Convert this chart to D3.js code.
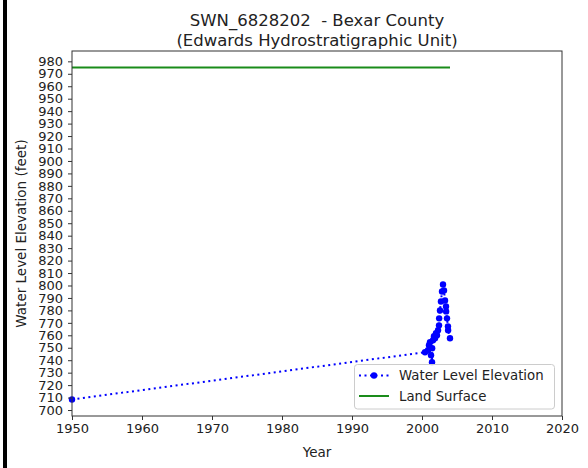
<!DOCTYPE html>
<html>
<head>
<meta charset="utf-8">
<script src="https://d3js.org/d3.v7.min.js"></script>
<title>SWN_6828202 - Bexar County</title>
</head>
<style>
body { margin: 0; background: #fff; }
svg { display: block; font-family: "DejaVu Sans", sans-serif; }
.title { white-space: pre; }
</style>
<body>
<svg width="588" height="468"></svg>
</body>
<script>

// water level readings (decimal year, feet)
let wlYears = [1950.0, 2000.43, 2000.86, 2001.0, 2001.14, 2001.29, 2001.43, 2001.45, 2001.57, 2001.71,
  2001.86, 2002.0, 2002.14, 2002.29, 2002.43, 2002.45, 2002.57, 2002.71, 2002.86, 2003.0,
  2003.14, 2003.29, 2003.43, 2003.45, 2003.57, 2003.71, 2003.73, 2004.0];
let wlValues = [708.5, 746.4, 748, 752, 754.4, 744, 738.4, 749.6, 756, 759.2,
  757.6, 761.6, 760, 764, 768, 773.6, 780, 787.2, 795.2, 800.8,
  796, 788, 783.2, 779.2, 773.6, 767.2, 764, 757.6];

let landYears = [1950, 2004];
let landValues = [975, 975];

let xTicks = [1950, 1960, 1970, 1980, 1990, 2000, 2010, 2020];
let yTicks = d3.range(700, 981, 10);

let titleLines = ["SWN_6828202  - Bexar County", "(Edwards Hydrostratigraphic Unit)"];

let svg = d3.select("svg");
let mLeft = 72, mRight = 562, mTop = 51, mBottom = 416;

let x = d3.scaleLinear().domain([1950, 2020]).range([mLeft, mRight]);
let y = d3.scaleLinear().domain([695.2, 988.3]).range([mBottom, mTop]);

// black bar at the left edge
svg.append("rect").attr("x", 3).attr("y", 0).attr("width", 4).attr("height", 468).attr("fill", "black");

// land surface
svg.append("path")
  .datum(d3.zip(landYears, landValues))
  .attr("fill", "none")
  .attr("stroke", "#1a8c1a")
  .attr("stroke-width", 2)
  .attr("d", d3.line().x(d => x(d[0])).y(d => y(d[1])));

// water level
let wl = d3.zip(wlYears, wlValues);
svg.append("path")
  .datum(wl)
  .attr("fill", "none")
  .attr("stroke", "blue")
  .attr("stroke-width", 2)
  .attr("stroke-dasharray", "2,3.5")
  .attr("d", d3.line().x(d => x(d[0])).y(d => y(d[1])));

svg.selectAll("circle.pt")
  .data(wl)
  .enter().append("circle")
  .attr("class", "pt")
  .attr("cx", d => x(d[0]))
  .attr("cy", d => y(d[1]))
  .attr("r", 3.2)
  .attr("fill", "blue");

// axes
let xAxis = svg.append("g")
  .attr("transform", "translate(0," + mBottom + ")")
  .call(d3.axisBottom(x).tickValues(xTicks).tickFormat(d3.format("d")).tickSize(4).tickPadding(4));
let yAxis = svg.append("g")
  .attr("transform", "translate(" + mLeft + ",0)")
  .call(d3.axisLeft(y).tickValues(yTicks).tickSize(4).tickPadding(5));

[xAxis, yAxis].forEach(function(g) {
  g.select(".domain").remove();
  g.selectAll("text").attr("font-size", 13).attr("font-family", "DejaVu Sans").attr("fill", "#222");
  g.selectAll("line").attr("stroke", "#333");
});

// frame
svg.append("rect")
  .attr("x", mLeft).attr("y", mTop)
  .attr("width", mRight - mLeft).attr("height", mBottom - mTop)
  .attr("fill", "none").attr("stroke", "#333").attr("stroke-width", 1);

// title
svg.selectAll("text.title")
  .data(titleLines)
  .enter().append("text")
  .attr("class", "title")
  .attr("x", (mLeft + mRight) / 2)
  .attr("y", (d, i) => 26 + i * 19.5)
  .attr("text-anchor", "middle")
  .attr("font-size", 16.5)
  .attr("fill", "#222")
  .text(d => d);

svg.append("text")
  .attr("x", (mLeft + mRight) / 2).attr("y", 457)
  .attr("text-anchor", "middle").attr("font-size", 13.5).attr("fill", "#222")
  .text("Year");

svg.append("text")
  .attr("transform", "translate(26," + (mTop + mBottom) / 2 + ") rotate(-90)")
  .attr("text-anchor", "middle").attr("font-size", 13.5).attr("fill", "#222")
  .text("Water Level Elevation (feet)");

// legend
let lg = svg.append("g");
lg.append("rect")
  .attr("x", 354.5).attr("y", 364.5).attr("width", 200).attr("height", 44.5)
  .attr("rx", 3).attr("fill", "white").attr("fill-opacity", 0.8)
  .attr("stroke", "#ccc");
lg.append("line").attr("x1", 359).attr("x2", 389).attr("y1", 375.5).attr("y2", 375.5)
  .attr("stroke", "blue").attr("stroke-width", 2).attr("stroke-dasharray", "2,3.5");
lg.append("circle").attr("cx", 374).attr("cy", 375.5).attr("r", 3.2).attr("fill", "blue");
lg.append("line").attr("x1", 359).attr("x2", 389).attr("y1", 396).attr("y2", 396)
  .attr("stroke", "#1a8c1a").attr("stroke-width", 2);
lg.append("text").attr("x", 399).attr("y", 380).attr("font-size", 13.3).attr("fill", "#222").text("Water Level Elevation");
lg.append("text").attr("x", 399).attr("y", 400.5).attr("font-size", 13.3).attr("fill", "#222").text("Land Surface");

</script>
</html>
